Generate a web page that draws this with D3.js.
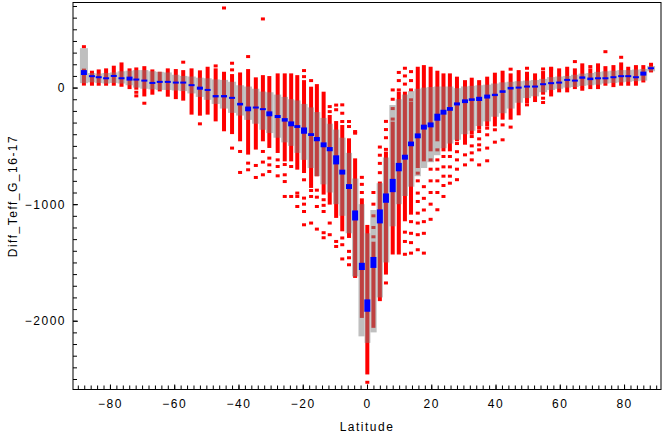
<!DOCTYPE html>
<html>
<head>
<meta charset="utf-8">
<script src="https://cdn.jsdelivr.net/npm/d3@7"></script>
<style>
body { margin: 0; background: #fff; }
text { font-family: "Liberation Sans", Arial, sans-serif; font-size: 12px; letter-spacing: 1.5px; fill: #000; }
</style>
</head>
<body>
<svg id="chart" width="664" height="436"></svg>
<script>
// latitude bins (column centres)
const lats = [-88.1,-85.6,-83.5,-81.2,-78.8,-76.4,-73.9,-71.8,-69.3,-66.8,-64.5,-62.0,-59.5,-57.2,-54.6,-52.0,-49.6,-47.1,-44.5,-42.0,-39.5,-37.0,-34.6,-32.4,-30.4,-27.8,-25.6,-23.6,-21.7,-19.6,-17.4,-15.6,-13.5,-11.6,-9.6,-7.7,-5.6,-3.7,-1.6,0.1,2.0,4.0,5.9,8.0,9.9,11.8,13.7,15.8,17.7,19.8,21.9,23.8,25.8,28.0,30.5,32.6,34.9,37.4,39.8,42.2,44.7,47.2,49.8,52.3,54.8,57.3,59.8,62.3,64.7,67.0,69.5,71.9,74.2,76.7,79.1,81.3,83.7,86.0,88.4];

// red point columns: main extent
const redTop = [150,132,143,152,175,203,152,160,171,143,123,152,146,137,152,135,166,152,123,103,117,146,75,94,86,109,109,109,94,51,-5,17,-48,-248,-300,-334,-448,-620,-963,-1191,-1335,-819,-562,-305,-48,-48,-134,166,180,166,132,109,109,81,51,72,51,81,115,132,109,137,123,109,129,166,152,166,152,195,152,195,171,180,203,166,180,180,200];
const redBot = [30,29,29,29,29,20,0,-5,-63,-48,-20,-65,-86,-99,-219,-228,-219,-277,-362,-386,-448,-562,-519,-448,-505,-548,-620,-620,-691,-720,-848,-748,-905,-991,-1105,-1220,-1277,-1620,-1963,-2448,-2048,-1819,-1591,-1419,-1419,-1134,-1077,-677,-620,-534,-448,-534,-534,-448,-477,-391,-348,-320,-320,-262,-262,-225,-120,-111,-48,-63,-28,-28,0,9,0,0,29,17,29,29,29,57,143];

// isolated red points [lat, diff]
const outliers = [
  [-88.1,351],[-71.8,-40],[-71.8,-71],[-69.3,-134],[-57.2,218],[-52.0,-311],[-47.1,186],[-44.5,683],
  [-42.0,209],[-42.0,152],[-42.0,-519],[-39.5,-548],[-39.5,-728],[-37.0,266],[-37.0,-648],[-37.0,-705],
  [-34.6,-668],[-34.6,-771],[-32.4,589],[-32.4,-548],[-32.4,-639],[-32.4,-748],[-30.4,-605],[-30.4,-663],[-30.4,-720],
  [-27.8,-620],[-27.8,-677],[-27.8,-757],[-25.6,-660],[-25.6,-748],[-25.6,-806],[-25.6,-934],[-23.6,-677],[-23.6,-934],
  [-21.7,-905],[-21.7,-934],[-21.7,-1020],[-19.6,146],[-19.6,94],[-19.6,-791],[-19.6,-948],[-19.6,-1000],[-19.6,-1063],[-19.6,-1177],
  [-17.4,60],[-17.4,-883],[-17.4,-934],[-17.4,-1162],[-15.6,-880],[-15.6,-940],[-15.6,-1020],[-15.6,-1214],
  [-13.5,-962],[-13.5,-1010],[-13.5,-1063],[-13.5,-1245],[-13.5,-1288],[-11.6,-163],[-11.6,-206],[-11.6,-1162],[-11.6,-1262],
  [-9.6,-150],[-9.6,-190],[-9.6,-1320],[-9.6,-1363],[-7.7,-148],[-7.7,-220],[-7.7,-291],[-7.7,-1290],[-7.7,-1348],[-7.7,-1470],
  [-5.6,-291],[-5.6,-334],[-5.6,-1405],[-5.6,-1460],[-5.6,-1520],[-3.7,-377],[-3.7,-391],[-1.6,-770],[-1.6,-830],[-1.6,-900],
  [0.1,-2528],[2.0,-900],[2.0,-1000],[2.0,-1100],[2.0,-1200],[2.0,-1280],[4.0,-510],[4.0,-580],[4.0,-650],[4.0,-730],
  [5.9,-290],[5.9,-360],[5.9,-430],[5.9,-530],[5.9,-1676],[8.0,-20],[8.0,-100],[8.0,-180],[8.0,-270],
  [9.9,130],[9.9,60],[9.9,-20],[11.8,166],[11.8,100],[11.8,30],[11.8,-1240],[11.8,-1320],[11.8,-1430],
  [13.7,137],[13.7,60],[13.7,-20],[13.7,-105],[13.7,-1150],[13.7,-1250],[13.7,-1330],[13.7,-1420],
  [15.8,-734],[15.8,-800],[15.8,-905],[15.8,-977],[15.8,-1077],[15.8,-1162],[15.8,-1262],[15.8,-1391],
  [17.7,-850],[17.7,-950],[17.7,-1050],[17.7,-1150],[17.7,-1250],[17.7,-1420],
  [19.8,-620],[19.8,-700],[19.8,-800],[19.8,-900],[19.8,-1000],[19.8,-1130],
  [21.9,-534],[21.9,-620],[21.9,-700],[21.9,-800],[21.9,-900],[21.9,-1048],
  [23.8,-591],[23.8,-680],[23.8,-760],[23.8,-840],[23.8,-934],[25.8,-591],[25.8,-680],[25.8,-760],[25.8,-820],
  [28.0,-480],[28.0,-550],[28.0,-620],[28.0,-700],[28.0,-790],[30.5,-577],[30.5,-663],
  [32.6,-420],[32.6,-500],[32.6,-560],[32.6,-620],[34.9,-377],[34.9,-440],[34.9,-491],[34.9,-534],[34.9,-663],
  [37.4,-348],[37.4,-405],[37.4,-519],[37.4,-628],[39.8,-362],[39.8,-468],[42.2,-320],[42.2,-448],
  [44.7,158],[44.7,-339],[49.8,166],[49.8,-148],[54.8,160],[54.8,-91],[54.8,-128],[57.3,160],
  [64.7,223],[67.0,-14],[69.5,180],[74.2,308],[79.1,260]
];

// grey band
const grayHi = [338,125,120,125,130,140,145,150,150,140,135,130,110,100,95,85,80,70,66,50,20,9,-10,-34,-40,-60,-80,-100,-110,-140,-170,-210,-260,-310,-360,-430,-560,-780,-1000,-1250,-1050,-820,-600,-150,-100,-60,-30,-10,0,5,9,9,9,-5,10,15,20,25,35,45,50,55,60,65,75,90,95,100,110,120,125,135,140,145,150,150,155,160,185];
const grayLo = [38,45,40,35,40,35,20,0,-10,-15,-20,-20,-25,-30,-50,-80,-105,-140,-180,-217,-240,-277,-310,-362,-390,-430,-470,-500,-560,-620,-690,-760,-830,-900,-1000,-1100,-1250,-1620,-2134,-2190,-2100,-1800,-1500,-1190,-1000,-930,-850,-760,-690,-640,-580,-520,-480,-448,-400,-370,-330,-290,-250,-220,-180,-130,-90,-75,-40,-20,-10,0,5,15,20,25,35,40,45,50,55,60,140];

// blue means and half-height
const meanVal = [129,98,89,80,100,80,77,69,60,40,49,49,43,43,21,-5,-20,-74,-74,-88,-142,-183,-171,-185,-225,-248,-277,-311,-334,-369,-403,-442,-491,-528,-620,-725,-849,-1097,-1534,-1870,-1500,-1105,-948,-840,-682,-597,-483,-414,-339,-320,-254,-211,-183,-140,-117,-103,-97,-77,-63,-34,-5,0,9,9,29,38,43,66,60,86,75,80,80,89,98,98,89,120,166];
const meanErr = [21,7,7,7,7,7,17,8,8,8,8,8,8,8,8,13,8,10,10,7,11,20,8,7,21,13,15,21,12,27,12,18,21,18,39,21,21,43,31,53,47,60,40,57,36,21,20,21,21,21,30,21,16,13,16,11,18,17,10,11,11,8,6,6,6,6,6,6,6,10,11,6,6,6,6,6,6,17,6];

const xTicks = [-80,-60,-40,-20,0,20,40,60,80];
const yTicks = [-2000,-1000,0];

const svg = d3.select("#chart");
const plotLeft = 73, plotRight = 661, plotTop = 2.5, plotBottom = 389.5;

const x = d3.scaleLinear().domain([-91.5, 91.5]).range([plotLeft, plotRight]);
const y = d3.scaleLinear().domain([-2590, 730]).range([plotBottom, plotTop]);

const plot = svg.append("g");

// red columns
plot.append("g")
  .selectAll("rect")
  .data(lats)
  .join("rect")
    .attr("x", d => x(d) - 2)
    .attr("y", (d, i) => y(redTop[i]) - 1.5)
    .attr("width", 4)
    .attr("height", (d, i) => y(redBot[i]) - y(redTop[i]) + 3)
    .attr("fill", "#ff0000");

plot.append("g")
  .selectAll("rect")
  .data(outliers)
  .join("rect")
    .attr("x", d => x(d[0]) - 2)
    .attr("y", d => y(d[1]) - 1.5)
    .attr("width", 4)
    .attr("height", 3)
    .attr("fill", "#ff0000");

// grey band, drawn as one translucent layer
const edge = i => {
  const lo = i > 0 ? (x(lats[i - 1]) + x(lats[i])) / 2 : x(lats[i]) - 4;
  const hi = i < lats.length - 1 ? (x(lats[i]) + x(lats[i + 1])) / 2 : x(lats[i]) + 4;
  return [lo, hi];
};
plot.append("g")
  .attr("opacity", 0.5)
  .selectAll("rect")
  .data(lats)
  .join("rect")
    .attr("x", (d, i) => edge(i)[0])
    .attr("width", (d, i) => edge(i)[1] - edge(i)[0])
    .attr("y", (d, i) => y(grayHi[i]))
    .attr("height", (d, i) => y(grayLo[i]) - y(grayHi[i]))
    .attr("fill", "#808080");

// blue means
plot.append("g")
  .selectAll("rect")
  .data(lats)
  .join("rect")
    .attr("x", d => x(d) - 3)
    .attr("y", (d, i) => Math.min(y(meanVal[i] + meanErr[i]), y(meanVal[i]) - 1))
    .attr("width", 6)
    .attr("height", (d, i) => Math.max(2, y(meanVal[i] - meanErr[i]) - y(meanVal[i] + meanErr[i])))
    .attr("fill", "#0000ff");

// frame
svg.append("rect")
  .attr("x", plotLeft).attr("y", plotTop)
  .attr("width", plotRight - plotLeft).attr("height", plotBottom - plotTop)
  .attr("fill", "none").attr("stroke", "#000");

// axes
const xMinor = d3.axisBottom(x).tickValues(d3.range(-90, 91, 2)).tickSize(-4).tickFormat("");
svg.append("g").attr("transform", `translate(0,${plotBottom})`).call(xMinor)
  .call(g => g.select(".domain").remove());
const xAxis = d3.axisBottom(x).tickValues(xTicks).tickSize(-5).tickPadding(10).tickFormat(d3.format("d"));
svg.append("g").attr("transform", `translate(0,${plotBottom})`).call(xAxis)
  .call(g => g.select(".domain").remove());

const yMinor = d3.axisLeft(y).tickValues(d3.range(-2500, 701, 100)).tickSize(-4).tickFormat("");
svg.append("g").attr("transform", `translate(${plotLeft},0)`).call(yMinor)
  .call(g => g.select(".domain").remove());
const yAxis = d3.axisLeft(y).tickValues(yTicks).tickSize(-5).tickPadding(7).tickFormat(d3.format("d"));
svg.append("g").attr("transform", `translate(${plotLeft},0)`).call(yAxis)
  .call(g => g.select(".domain").remove());

svg.selectAll(".tick text").attr("font-family", null).attr("font-size", null);

svg.append("text")
  .attr("x", x(0)).attr("y", 431)
  .attr("text-anchor", "middle")
  .text("Latitude");

svg.append("text")
  .attr("transform", `translate(17,${(plotTop + plotBottom) / 2}) rotate(-90)`)
  .attr("text-anchor", "middle")
  .text("Diff_Teff_G_16-17");
</script>
</body>
</html>
